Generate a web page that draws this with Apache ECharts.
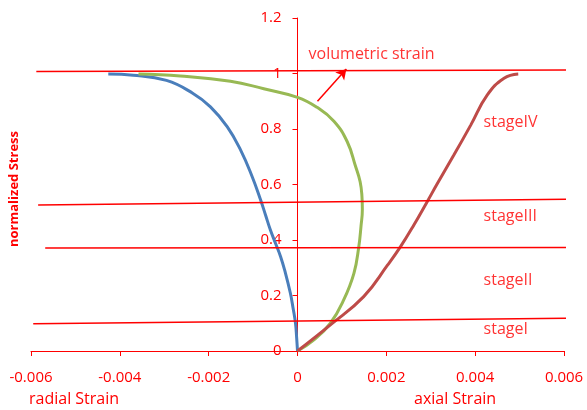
<!DOCTYPE html>
<html>
<head>
<meta charset="utf-8">
<script src="https://cdn.jsdelivr.net/npm/echarts@6/dist/echarts.min.js"></script>
<style>
    html, body { margin: 0; padding: 0; background: #fff; }
    #chart { width: 587px; height: 410px; }
</style>
</head>
<body>
<div id="chart"></div>
<script>
// curves: [strain, normalized stress]
const radialStrain = [
    [0, 0], [-0.00002, 0.05], [-0.000045, 0.1], [-0.0001, 0.155], [-0.00016, 0.208],
    [-0.00027, 0.28], [-0.00038, 0.34], [-0.0005, 0.39], [-0.00061, 0.436],
    [-0.00072, 0.49], [-0.00083, 0.544], [-0.00102, 0.628], [-0.00128, 0.724],
    [-0.00158, 0.808], [-0.00196, 0.88], [-0.00236, 0.929], [-0.00295, 0.975],
    [-0.00370, 0.994], [-0.00426, 0.998]
];
const volumetricStrain = [
    [0, 0], [0.00037, 0.04], [0.00074, 0.1], [0.00104, 0.184], [0.00127, 0.28],
    [0.00138, 0.376], [0.00143, 0.45], [0.00146, 0.51], [0.00145, 0.56], [0.00141, 0.61],
    [0.00131, 0.664], [0.00112, 0.754], [0.00082, 0.828], [0.00044, 0.878],
    [0, 0.914], [-0.00076, 0.945], [-0.00151, 0.972], [-0.00264, 0.991], [-0.00358, 0.998]
];
const axialStrain = [
    [0, 0], [0.00074, 0.094], [0.00149, 0.196], [0.00203, 0.31], [0.00232, 0.376],
    [0.00262, 0.454], [0.00292, 0.538], [0.00313, 0.598], [0.00352, 0.706],
    [0.0039, 0.814], [0.00427, 0.922], [0.00465, 0.983], [0.00497, 0.998]
];

// boundary lines between stages (slightly tilted in the original)
const stageLines = [
    [[-0.00588, 1.007], [0.0066, 1.013]],
    [[-0.00584, 0.526], [0.0066, 0.548]],
    [[-0.00568, 0.371], [0.0066, 0.373]],
    [[-0.00595, 0.098], [0.0066, 0.119]]
];
const arrowFrom = [0.00045, 0.9];
const arrowTo = [0.0011, 1.016];

const notes = [
    [0.00025, 1.07, 'volumetric strain'],
    [0.00419, 0.822, 'stageIV'],
    [0.00419, 0.486, 'stageIII'],
    [0.00419, 0.256, 'stageII'],
    [0.00419, 0.076, 'stageI']
];

const xTicks = { min: -0.006, max: 0.006, interval: 0.002 };
const yTicks = { min: 0, max: 1.2, interval: 0.2 };

const RED = '#ff0000';
const FONT = '"Open Sans", "Noto Sans", sans-serif';
const GRID = { left: 31, right: 23, top: 18, bottom: 59 };

const chart = echarts.init(document.getElementById('chart'));

const curve = (data, color) => ({
    type: 'line',
    data,
    showSymbol: false,
    symbol: 'none',
    smooth: 0.45,
    lineStyle: { color, width: 3 },
    z: 3
});

// y axis sits on x = 0, half way across the plot
const plotWidth = 587 - GRID.left - GRID.right;
const yOffset = -plotWidth * (0 - xTicks.min) / (xTicks.max - xTicks.min);

chart.setOption({
    animation: false,
    textStyle: { fontFamily: FONT },
    grid: { ...GRID, outerBoundsMode: 'none', containLabel: false },
    xAxis: {
        type: 'value',
        ...xTicks,
        axisLine: { onZero: false, lineStyle: { color: RED, width: 1 } },
        axisTick: { show: true, length: 5, lineStyle: { color: RED } },
        axisLabel: { color: RED, fontSize: 15, margin: 19, fontFamily: FONT },
        splitLine: { show: false }
    },
    yAxis: {
        type: 'value',
        ...yTicks,
        offset: yOffset,
        axisLine: { show: true, onZero: false, lineStyle: { color: RED, width: 1 } },
        axisTick: { show: true, length: 5, lineStyle: { color: RED } },
        axisLabel: { color: RED, fontSize: 15, margin: 16, fontFamily: FONT,
            formatter: v => String(Math.round(v * 10) / 10) },
        splitLine: { show: false }
    },
    series: [
        curve(radialStrain, '#4a7ebb'),
        curve(volumetricStrain, '#98b954'),
        curve(axialStrain, '#be4b48'),
        ...stageLines.map(seg => ({
            type: 'line',
            data: seg,
            symbol: 'none',
            clip: false,
            lineStyle: { color: RED, width: 1.5 },
            z: 4
        })),
        {
            type: 'scatter',
            data: notes,
            symbolSize: 0,
            clip: false,
            label: {
                show: true,
                position: 'right',
                distance: 0,
                color: RED,
                fontSize: 16,
                fontFamily: FONT,
                formatter: p => p.value[2]
            },
            markLine: {
                silent: true,
                symbol: ['none', 'arrow'],
                symbolSize: [9, 10],
                label: { show: false },
                lineStyle: { color: RED, width: 1.5, type: 'solid' },
                data: [[{ coord: arrowFrom }, { coord: arrowTo }]]
            },
            z: 5
        }
    ],
    graphic: [
        {
            type: 'text', left: 29, top: 391,
            style: { text: 'radial Strain', fill: RED, font: '16px ' + FONT }
        },
        {
            type: 'text', left: 414, top: 391,
            style: { text: 'axial Strain', fill: RED, font: '16px ' + FONT }
        },
        {
            type: 'text', x: 8, y: 247, rotation: Math.PI / 2,
            style: { text: 'normalized Stress', fill: RED, font: 'bold 13px ' + FONT,
                align: 'left', verticalAlign: 'top' }
        }
    ]
});
</script>
</body>
</html>
